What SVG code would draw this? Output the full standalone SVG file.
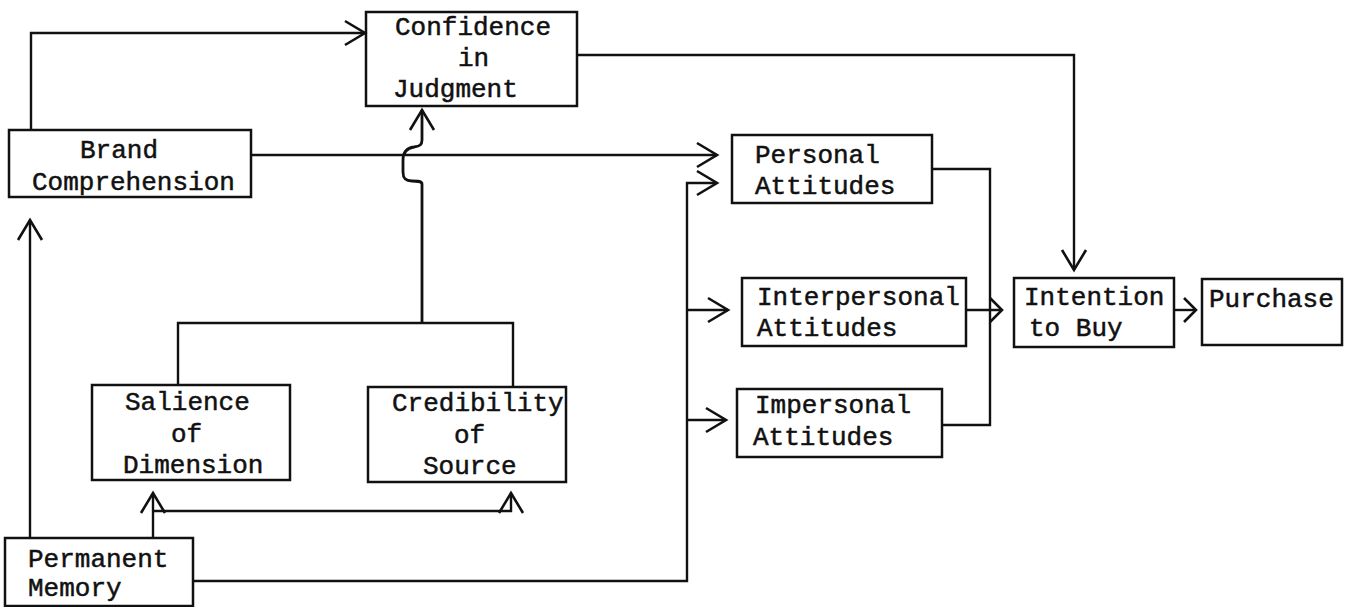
<svg xmlns="http://www.w3.org/2000/svg" width="1345" height="607" viewBox="0 0 1345 607">
<style>
.box{fill:none;stroke:#111;stroke-width:2.5}
.t{font-family:"Liberation Mono","Courier New",monospace;font-size:26px;fill:#111;stroke:#111;stroke-width:0.5}
.c{fill:none;stroke:#111;stroke-width:2.4}
</style>
<defs>
<marker id="arr" markerUnits="userSpaceOnUse" markerWidth="30" markerHeight="30" viewBox="-24 -15 28 30" refX="0" refY="0" orient="auto">
<path d="M-20,-12 L0,0 L-20,12" fill="none" stroke="#111" stroke-width="2.6"/>
</marker>
<marker id="arrs" markerUnits="userSpaceOnUse" markerWidth="24" markerHeight="30" viewBox="-18 -15 22 30" refX="0" refY="0" orient="auto">
<path d="M-12,-12 L0,0 L-12,12" fill="none" stroke="#111" stroke-width="2.6"/>
</marker>
</defs>
<rect width="1345" height="607" fill="#fff"/>
<g id="connectors">
<path class="c" d="M31,130 V33 H365" marker-end="url(#arr)"/>
<path class="c" d="M251,155 H717" marker-end="url(#arr)"/>
<path class="c" d="M577,55 H1074 V270" marker-end="url(#arr)"/>
<path class="c" d="M178,385 V323 H513 V387"/>
<path class="c" style="stroke-width:2.8" d="M422,323 V184 C422,181 418,181 412,181 C405,181 403,178 403,172 V160 C403,152 407,148 414,147 C420,146 422,145 422,140 V110" marker-end="url(#arr)"/>
<path class="c" d="M30,538 V220" marker-end="url(#arr)"/>
<path class="c" d="M153,538 V493" marker-end="url(#arr)"/>
<path class="c" d="M153,511 H511 V493" marker-end="url(#arr)"/>
<path class="c" d="M193,581 H687 V183 H717" marker-end="url(#arr)"/>
<path class="c" d="M687,310 H728" marker-end="url(#arr)"/>
<path class="c" d="M687,420 H726" marker-end="url(#arr)"/>
<path class="c" d="M932,169 H990 V425 H942"/>
<path class="c" d="M966,310 H1002" marker-end="url(#arrs)"/>
<path class="c" d="M1174,310 H1196" marker-end="url(#arrs)"/>
</g>
<g id="confidence">
<rect class="box" x="366" y="12" width="211" height="94"/>
<text class="t" x="395" y="35">Confidence</text>
<text class="t" x="458" y="66">in</text>
<text class="t" x="393" y="97">Judgment</text>
</g>
<g id="brand">
<rect class="box" x="9" y="130" width="242" height="67"/>
<text class="t" x="80" y="158">Brand</text>
<text class="t" x="32" y="190">Comprehension</text>
</g>
<g id="personal">
<rect class="box" x="732" y="135" width="200" height="68"/>
<text class="t" x="755" y="163">Personal</text>
<text class="t" x="755" y="194">Attitudes</text>
</g>
<g id="interpersonal">
<rect class="box" x="742" y="278" width="224" height="68"/>
<text class="t" x="757" y="305">Interpersonal</text>
<text class="t" x="757" y="336">Attitudes</text>
</g>
<g id="impersonal">
<rect class="box" x="737" y="389" width="205" height="68"/>
<text class="t" x="755" y="413">Impersonal</text>
<text class="t" x="753" y="445">Attitudes</text>
</g>
<g id="intention">
<rect class="box" x="1014" y="278" width="160" height="69"/>
<text class="t" x="1024" y="305">Intention</text>
<text class="t" x="1029" y="336">to Buy</text>
</g>
<g id="purchase">
<rect class="box" x="1202" y="279" width="140" height="66"/>
<text class="t" x="1209" y="307">Purchase</text>
</g>
<g id="salience">
<rect class="box" x="92" y="385" width="198" height="95"/>
<text class="t" x="125" y="410">Salience</text>
<text class="t" x="171" y="442">of</text>
<text class="t" x="123" y="473">Dimension</text>
</g>
<g id="credibility">
<rect class="box" x="368" y="387" width="198" height="95"/>
<text class="t" x="392" y="411">Credibility</text>
<text class="t" x="454" y="443">of</text>
<text class="t" x="423" y="474">Source</text>
</g>
<g id="permanent">
<rect class="box" x="5" y="538" width="188" height="68"/>
<text class="t" x="28" y="567">Permanent</text>
<text class="t" x="28" y="596">Memory</text>
</g>
</svg>
